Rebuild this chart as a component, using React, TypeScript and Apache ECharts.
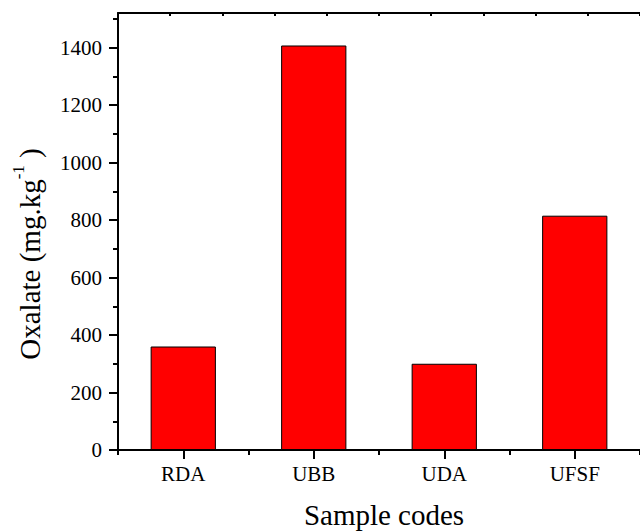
import React, { useEffect, useRef } from 'react';
import * as echarts from 'echarts';

const categories = ['RDA', 'UBB', 'UDA', 'UFSF'];
const oxalate = [360, 1407, 300, 815];
const yMajorTicks = [0, 200, 400, 600, 800, 1000, 1200, 1400];
const yMinorTicks = [100, 300, 500, 700, 900, 1100, 1300, 1500];
const yMax = 1520;
const xTitle = 'Sample codes';
const yTitle = 'Oxalate (mg.kg{sup|-1} )';

export default function App() {
  const ref = useRef<HTMLDivElement>(null);
  useEffect(() => {
    const chart = echarts.init(ref.current!, null, { renderer: 'svg' });
    const font = "'Liberation Serif', 'Times New Roman', serif";
    const lineStyle = { color: '#000', width: 2 };
    chart.setOption({
      animation: false,
      grid: { left: 118, top: 13, right: -10, bottom: 82, containLabel: false },
      xAxis: [
        {
          type: 'category',
          data: categories,
          position: 'bottom',
          axisLine: { show: true, lineStyle },
          axisTick: { show: true, alignWithLabel: true, length: 9, lineStyle },
          axisLabel: { fontFamily: font, fontSize: 21, color: '#000', margin: 13 },
          splitLine: { show: false },
        },
        {
          type: 'value',
          min: 0,
          max: 4,
          interval: 1,
          position: 'bottom',
          axisLine: { show: false },
          axisTick: { show: true, length: 5, lineStyle },
          axisLabel: { show: false },
          splitLine: { show: false },
        },
        {
          type: 'value',
          min: 0,
          max: 10,
          interval: 1,
          position: 'top',
          axisLine: { show: true, lineStyle },
          axisTick: { show: true, inside: true, length: 3, lineStyle },
          axisLabel: { show: false },
          splitLine: { show: false },
        },
      ],
      yAxis: [
        {
          type: 'value',
          min: 0,
          max: yMax,
          position: 'left',
          axisLine: { show: true, lineStyle },
          axisTick: { show: true, length: 9, lineStyle, customValues: yMajorTicks },
          axisLabel: {
            fontFamily: font,
            fontSize: 21,
            color: '#000',
            margin: 16,
            customValues: yMajorTicks,
            formatter: (v: number) => String(v),
          },
          splitLine: { show: false },
        },
        {
          type: 'value',
          min: 0,
          max: yMax,
          position: 'left',
          axisLine: { show: false },
          axisTick: { show: true, length: 5, lineStyle, customValues: yMinorTicks },
          axisLabel: { show: false },
          splitLine: { show: false },
        },
      ],
      series: [
        {
          type: 'bar',
          data: oxalate,
          xAxisIndex: 0,
          yAxisIndex: 0,
          barWidth: '50%',
          itemStyle: { color: '#ff0000', borderColor: '#000', borderWidth: 1 },
        },
      ],
      graphic: [
        {
          type: 'text',
          x: 384,
          y: 515,
          style: {
            text: xTitle,
            fontFamily: font,
            fontSize: 29,
            fill: '#000',
            align: 'center',
            verticalAlign: 'middle',
          },
        },
        {
          type: 'text',
          x: 30,
          y: 254,
          rotation: Math.PI / 2,
          style: {
            text: yTitle,
            fontFamily: font,
            fontSize: 29,
            fill: '#000',
            align: 'center',
            verticalAlign: 'middle',
            rich: {
              sup: { fontFamily: font, fontSize: 17, fill: '#000', verticalAlign: 'top', lineHeight: 40 },
            },
          },
        },
      ],
    });
    return () => chart.dispose();
  }, []);
  return (
    <div
      ref={ref}
      style={{ position: 'fixed', left: 0, top: 0, width: 640, height: 532, background: '#fff' }}
    />
  );
}
